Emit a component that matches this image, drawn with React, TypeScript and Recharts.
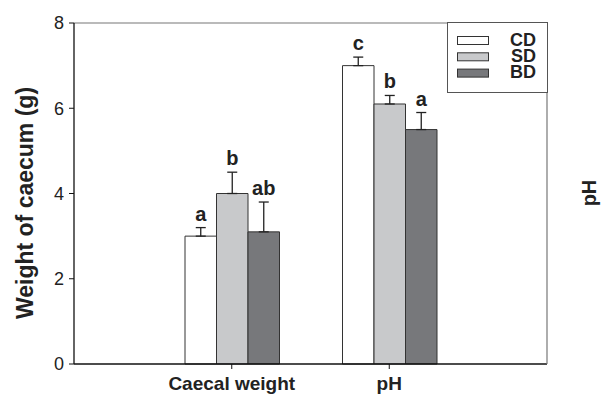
import React from 'react';
import {
  BarChart,
  Bar,
  XAxis,
  YAxis,
  ErrorBar,
  LabelList,
  ReferenceLine,
  Legend,
} from 'recharts';

const categories = ['Caecal weight', 'pH'];
const cdValues = [3.0, 7.0];
const cdErrors = [0.2, 0.2];
const sdValues = [4.0, 6.1];
const sdErrors = [0.5, 0.2];
const bdValues = [3.1, 5.5];
const bdErrors = [0.7, 0.4];
const cdLetters = ['a', 'c'];
const sdLetters = ['b', 'b'];
const bdLetters = ['ab', 'a'];
const yTicks = [0, 2, 4, 6, 8];

const seriesNames = ['CD', 'SD', 'BD'];
const seriesFills = ['#ffffff', '#c8c9cb', '#77787b'];
const STROKE = '#333333';
const FONT = '"Liberation Sans", Arial, sans-serif';

const data = categories.map((c, i) => ({
  category: c,
  CD: cdValues[i],
  SD: sdValues[i],
  BD: bdValues[i],
  CDerr: [0, cdErrors[i]],
  SDerr: [0, sdErrors[i]],
  BDerr: [0, bdErrors[i]],
}));

const makeLetterLabel = (values: number[], errors: number[], letters: string[]) => (props: any) => {
  const { x, y, width, height, index } = props;
  const v = values[index];
  const e = errors[index];
  const pxPerUnit = height / v;
  const errTop = y - e * pxPerUnit;
  return (
    <text
      x={x + width / 2}
      y={errTop - 7}
      textAnchor="middle"
      fontFamily={FONT}
      fontWeight="bold"
      fontSize={20}
      fill="#222"
    >
      {letters[index]}
    </text>
  );
};

const LegendBox = () => (
  <svg width={101} height={71} style={{ display: 'block' }}>
    <rect x={0.5} y={0.5} width={100} height={70} fill="#fff" stroke="#555" strokeWidth={1} />
    {seriesNames.map((n, i) => (
      <rect
        key={n}
        x={10.5}
        y={14.5 + i * 16.3}
        width={31}
        height={8}
        fill={seriesFills[i]}
        stroke={STROKE}
        strokeWidth={1}
      />
    ))}
    <text
      x={89}
      y={23.5}
      textAnchor="end"
      fontFamily={FONT}
      fontWeight="bold"
      fontSize={18}
      fill="#222"
    >
      {seriesNames.map((n, i) => (
        <tspan key={n} x={89} dy={i === 0 ? 0 : 16.3}>
          {n}
        </tspan>
      ))}
    </text>
  </svg>
);

const leftLabel = (props: any) => {
  const vb = props.viewBox || { x: 0, y: 23, width: 74, height: 341 };
  const cx = vb.x + 25;
  const cy = vb.y + 180;
  return (
    <text
      x={cx}
      y={cy}
      transform={`rotate(-90 ${cx} ${cy})`}
      textAnchor="middle"
      dominantBaseline="central"
      fontFamily={FONT}
      fontWeight="bold"
      fontSize={23}
      fill="#222"
    >
      Weight of caecum (g)
    </text>
  );
};

const rightLabel = (props: any) => {
  const vb = props.viewBox || { x: 547, y: 23, width: 59, height: 341 };
  const cx = vb.x + 42;
  const cy = vb.y + 170;
  return (
    <text
      x={cx}
      y={cy}
      transform={`rotate(-90 ${cx} ${cy})`}
      textAnchor="middle"
      dominantBaseline="central"
      fontFamily={FONT}
      fontWeight="bold"
      fontSize={20}
      fill="#222"
    >
      pH
    </text>
  );
};

export default function App() {
  return (
    <div style={{ position: 'absolute', left: 0, top: 0, background: '#fff' }}>
      <BarChart
        width={606}
        height={395}
        data={data}
        margin={{ top: 23, right: 0, bottom: 0, left: 0 }}
        barGap={0}
        barSize={31.5}
      >
        <XAxis
          dataKey="category"
          xAxisId="x"
          height={31}
          padding={{ left: 79, right: 79 }}
          tickSize={5}
          tickMargin={8}
          axisLine={{ stroke: '#111', strokeWidth: 1.3 }}
          tickLine={{ stroke: '#111' }}
          tick={{ fontFamily: FONT, fontWeight: 'bold', fontSize: 19, fill: '#222' }}
        />
        <YAxis
          yAxisId="left"
          domain={[0, 8]}
          ticks={yTicks}
          width={74}
          tickSize={5}
          tickMargin={5}
          axisLine={{ stroke: '#111', strokeWidth: 1.3 }}
          tickLine={{ stroke: '#111' }}
          tick={{ fontFamily: FONT, fontSize: 18, fill: '#222' }}
          label={leftLabel}
        />
        <YAxis
          yAxisId="right"
          orientation="right"
          domain={[0, 8]}
          ticks={yTicks}
          width={59}
          tickSize={0}
          tickMargin={10}
          tickLine={false}
          axisLine={{ stroke: '#777', strokeWidth: 1.2 }}
          tick={{ fontFamily: FONT, fontSize: 18, fill: '#222' }}
          label={rightLabel}
        />
        <ReferenceLine yAxisId="left" xAxisId="x" y={8} stroke="#777" strokeWidth={1.2} />
        <Legend
          layout="horizontal"
          verticalAlign="middle"
          align="center"
          content={() => <LegendBox />}
          wrapperStyle={{ position: 'absolute', left: 447, top: 22, width: 101, height: 71 }}
        />
        <Bar dataKey="CD" name="CD" xAxisId="x" yAxisId="left" fill={seriesFills[0]} stroke={STROKE} strokeWidth={1} isAnimationActive={false}>
          <ErrorBar dataKey="CDerr" width={5} stroke="#222" strokeWidth={1.3} direction="y" isAnimationActive={false} />
          <LabelList dataKey="CD" content={makeLetterLabel(cdValues, cdErrors, cdLetters)} />
        </Bar>
        <Bar dataKey="SD" name="SD" xAxisId="x" yAxisId="left" fill={seriesFills[1]} stroke={STROKE} strokeWidth={1} isAnimationActive={false}>
          <ErrorBar dataKey="SDerr" width={5} stroke="#222" strokeWidth={1.3} direction="y" isAnimationActive={false} />
          <LabelList dataKey="SD" content={makeLetterLabel(sdValues, sdErrors, sdLetters)} />
        </Bar>
        <Bar dataKey="BD" name="BD" xAxisId="x" yAxisId="left" fill={seriesFills[2]} stroke={STROKE} strokeWidth={1} isAnimationActive={false}>
          <ErrorBar dataKey="BDerr" width={5} stroke="#222" strokeWidth={1.3} direction="y" isAnimationActive={false} />
          <LabelList dataKey="BD" content={makeLetterLabel(bdValues, bdErrors, bdLetters)} />
        </Bar>
      </BarChart>
    </div>
  );
}
